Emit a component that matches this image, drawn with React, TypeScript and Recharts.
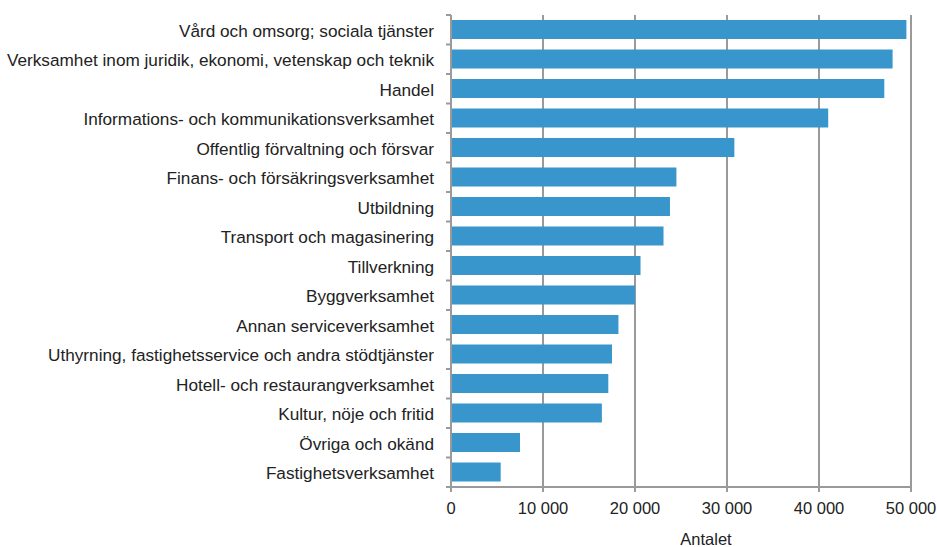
import { BarChart, Bar, XAxis, YAxis, CartesianGrid } from 'recharts';

const categories = [
    'Vård och omsorg; sociala tjänster',
    'Verksamhet inom juridik, ekonomi, vetenskap och teknik',
    'Handel',
    'Informations- och kommunikationsverksamhet',
    'Offentlig förvaltning och försvar',
    'Finans- och försäkringsverksamhet',
    'Utbildning',
    'Transport och magasinering',
    'Tillverkning',
    'Byggverksamhet',
    'Annan serviceverksamhet',
    'Uthyrning, fastighetsservice och andra stödtjänster',
    'Hotell- och restaurangverksamhet',
    'Kultur, nöje och fritid',
    'Övriga och okänd',
    'Fastighetsverksamhet',
];

const antalet = [
    49500, 48000, 47100, 41000, 30800, 24500, 23800, 23100, 20600, 20000, 18200, 17500, 17100,
    16400, 7500, 5400,
];

const xTicks = [0, 10000, 20000, 30000, 40000, 50000];

const data = categories.map((name, i) => ({ name, value: antalet[i] }));

const WIDTH = 937;
const HEIGHT = 547;
const MARGIN = { top: 15, right: 26, bottom: 0, left: 0 };
const X_AXIS_H = 60;
const Y_AXIS_W = 451;
const TICK_SIZE = 5;
const TICK_MARGIN = 12;
const AXIS_COLOR = '#9a9a9a';
const TEXT_COLOR = '#222';
const FONT = '"Liberation Sans", Arial, sans-serif';

const bandSize = (HEIGHT - MARGIN.top - MARGIN.bottom - X_AXIS_H) / categories.length;

const formatThousands = (v: number) => (v === 0 ? '0' : `${Math.floor(v / 1000)} ${String(v % 1000).padStart(3, '0')}`);

// Excel-style: ticks sit on the band edges, labels in the band centre
function CategoryTick(props: any) {
    const { x, y, payload, index } = props;
    const axisX = x + TICK_SIZE + TICK_MARGIN;
    const top = y - bandSize / 2;
    const bottom = y + bandSize / 2;
    return (
        <g>
            <line x1={axisX - TICK_SIZE} x2={axisX} y1={top} y2={top} stroke={AXIS_COLOR} strokeWidth={2} />
            {index === categories.length - 1 && (
                <line x1={axisX - TICK_SIZE} x2={axisX} y1={bottom} y2={bottom} stroke={AXIS_COLOR} strokeWidth={2} />
            )}
            <text
                x={x}
                y={y}
                dy="0.4em"
                textAnchor="end"
                fill={TEXT_COLOR}
                fontSize={17.2}
                fontFamily={FONT}
            >
                {payload.value}
            </text>
        </g>
    );
}

export default function App() {
    return (
        <div style={{ position: 'absolute', left: 0, top: 0, background: '#fff' }}>
            <BarChart
                width={WIDTH}
                height={HEIGHT}
                data={data}
                layout="vertical"
                margin={MARGIN}
                barCategoryGap="17%"
            >
                <CartesianGrid horizontal={false} stroke={AXIS_COLOR} strokeWidth={2} />
                <XAxis
                    type="number"
                    domain={[0, 50000]}
                    ticks={xTicks}
                    tickFormatter={formatThousands}
                    height={X_AXIS_H}
                    axisLine={{ stroke: AXIS_COLOR, strokeWidth: 2 }}
                    tickLine={{ stroke: AXIS_COLOR, strokeWidth: 2 }}
                    tickSize={TICK_SIZE}
                    tickMargin={10}
                    tick={{ fill: TEXT_COLOR, fontSize: 16.5, fontFamily: FONT }}
                    label={{
                        value: 'Antalet',
                        position: 'insideBottom',
                        offset: 2,
                        dx: 25,
                        fill: TEXT_COLOR,
                        fontSize: 16.5,
                        fontFamily: FONT,
                    }}
                />
                <YAxis
                    type="category"
                    dataKey="name"
                    width={Y_AXIS_W}
                    axisLine={{ stroke: AXIS_COLOR, strokeWidth: 2 }}
                    tickLine={false}
                    tickSize={TICK_SIZE}
                    tickMargin={TICK_MARGIN}
                    interval={0}
                    tick={<CategoryTick />}
                />
                <Bar dataKey="value" fill="#3896cc" isAnimationActive={false} />
            </BarChart>
        </div>
    );
}
